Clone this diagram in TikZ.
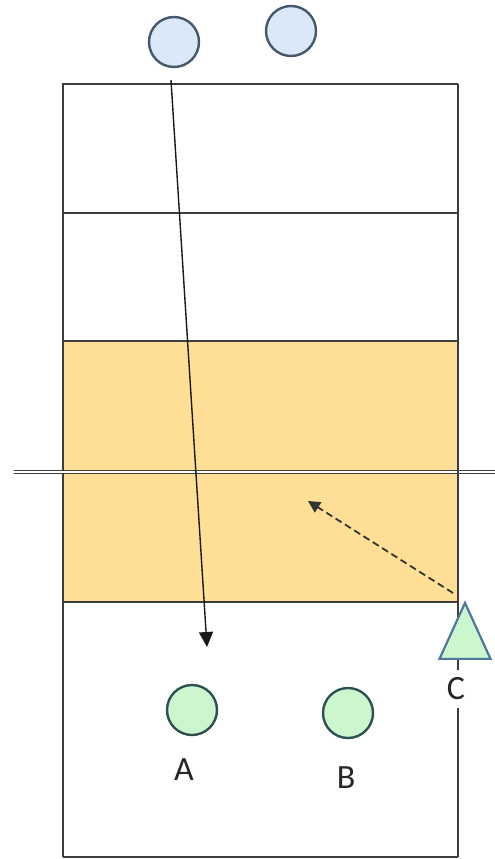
\documentclass[tikz,border=0pt]{standalone}
\usepackage{fontspec}
\setmainfont{Carlito}
\usepackage{xcolor}
\usepackage{tikz}
\usetikzlibrary{positioning, arrows.meta, calc, shapes.geometric}
\definecolor{courtline}{RGB}{62,62,62}
\definecolor{zonefill}{RGB}{255,223,150}
\definecolor{servefill}{RGB}{218,232,247}
\definecolor{servedraw}{RGB}{70,88,108}
\definecolor{playfill}{RGB}{204,247,206}
\definecolor{playdraw}{RGB}{44,82,84}
\definecolor{blockdraw}{RGB}{78,118,158}
\tikzset{
  court/.style={draw=courtline, line width=1.8pt},
  server/.style={
    circle, draw=servedraw, line width=2.4pt, fill=servefill,
    minimum size=50pt, inner sep=0pt
  },
  player/.style={
    circle, draw=playdraw, line width=2.4pt, fill=playfill,
    minimum size=50pt, inner sep=0pt
  },
  blocker/.style={
    isosceles triangle, isosceles triangle stretches,
    shape border rotate=90, draw=blockdraw, line width=2.2pt,
    fill=playfill, minimum width=51pt, minimum height=56pt, inner sep=0pt
  },
  lbl/.style={font=\fontsize{34}{40}\selectfont, text=black!85, inner sep=8pt},
}

\begin{document}
\begin{tikzpicture}[x=1pt, y=-1pt,
  pass/.style={-{Triangle[width=14pt,length=15pt]}, draw=black!90, line width=1.4pt},
  move/.style={-{Triangle[width=12pt,length=12pt]}, draw=black!80,
               line width=1.8pt, dash pattern=on 7pt off 4pt}
]
  \useasboundingbox (0,0) rectangle (495,859);

  %% ── court corners ──
  \coordinate (NW) at (63,84);
  \coordinate (NE) at (458,84);
  \coordinate (SW) at (63,857);
  \coordinate (SE) at (458,857);

  %% ── front zone (shaded) ──
  \fill[zonefill] (63,341) rectangle (458,602);

  %% ── court lines ──
  \draw[court] (SW) -- (NW) -- (NE);
  \draw[court] (SW) -- (SE);
  \draw[court] (63,213) -- (458,213);
  \draw[court] (63,341) -- (458,341);
  \draw[court] (63,602) -- (458,602);

  %% ── net ──
  \coordinate (netL) at (14,472);
  \coordinate (netR) at (495,472);
  \draw[draw=courtline, line width=1.4pt, double=white, double distance=1.8pt]
    (netL) -- (netR);

  %% ── label C splits the right sideline ──
  \node[lbl] (lblC) at (456,689) {C};
  \draw[court] (NE) -- (NE |- lblC.north);
  \draw[court] (SE) -- (SE |- lblC.south);

  %% ── players ──
  \node[server]  (S1) at (174,42)  {};
  \node[server]  (S2) at (291,31)  {};
  \node[player]  (A)  at (192,710) {};
  \node[player]  (B)  at (348,713) {};
  \node[blocker, anchor=apex] (C) at (465,600) {};

  \node[lbl] (lblA) at (184,770) {A};
  \node[lbl] (lblB) at (346,778) {B};

  %% ── serve path ──
  \coordinate (landA) at (207,647);
  \draw[pass] ([xshift=-3pt,yshift=-12pt]S1.south) -- (landA);

  %% ── blocker move (dashed) ──
  \coordinate (blockTo) at (308,501);
  \draw[move] ([xshift=-12pt,yshift=7pt]C.apex) -- (blockTo);
\end{tikzpicture}
\end{document}
